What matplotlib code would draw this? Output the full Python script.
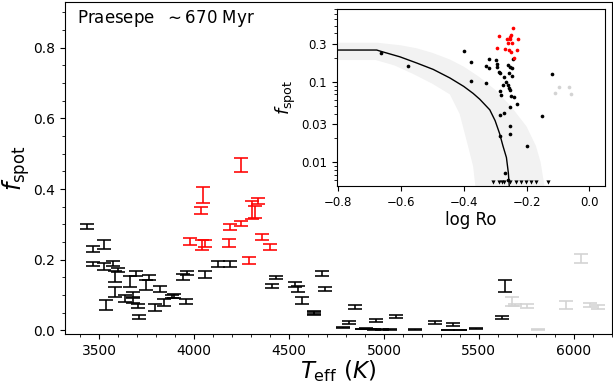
import numpy as np
import matplotlib
matplotlib.use("Agg")
import matplotlib.pyplot as plt
from matplotlib.ticker import MultipleLocator, FixedLocator, FixedFormatter, NullFormatter, LogLocator

# ---------------- main panel data ----------------
teff_black = [3438, 3470, 3523, 3470, 3523, 3572, 3598, 3584, 3584, 3537,
              3693, 3663, 3760, 3747, 3821, 3680, 3637, 3680, 3707, 3712,
              3795, 3842, 3895, 3958, 3944, 3961, 3885, 4058, 4128, 4189,
              4409, 4432, 4532, 4549, 4566, 4675, 4689, 4633, 4633, 4847,
              4814, 4784, 4885, 4905, 4925, 4945, 4958, 4990, 5030, 5066,
              5165, 5268, 5362, 5337, 5400, 5487, 5620, 5640]
fspot_black = [0.293, 0.231, 0.243, 0.188, 0.180, 0.190, 0.170, 0.152, 0.110, 0.073,
               0.160, 0.138, 0.150, 0.129, 0.117, 0.103, 0.090, 0.086, 0.070, 0.038,
               0.064, 0.078, 0.098, 0.082, 0.152, 0.163, 0.095, 0.158, 0.188, 0.188,
               0.126, 0.150, 0.130, 0.118, 0.086, 0.161, 0.118, 0.051, 0.048, 0.066,
               0.023, 0.008, 0.004, 0.005, 0.004, 0.003, 0.029, 0.003, 0.002, 0.040,
               0.003, 0.022, 0.016, 0.001, 0.001, 0.005, 0.037, 0.125]
ferr_black = [0.007, 0.008, 0.013, 0.007, 0.010, 0.007, 0.006, 0.015, 0.014, 0.014,
              0.007, 0.015, 0.007, 0.014, 0.008, 0.007, 0.010, 0.007, 0.006, 0.007,
              0.010, 0.010, 0.006, 0.006, 0.008, 0.006, 0.004, 0.009, 0.009, 0.009,
              0.006, 0.005, 0.006, 0.008, 0.010, 0.006, 0.006, 0.005, 0.004, 0.005,
              0.004, 0.001, 0.001, 0.002, 0.001, 0.001, 0.004, 0.001, 0.001, 0.004,
              0.001, 0.004, 0.004, 0.001, 0.001, 0.001, 0.005, 0.017]

teff_red = [4247, 4049, 4037, 4338, 4303, 4320, 4245, 4189, 3980, 4040,
            4058, 4186, 4356, 4400, 4291]
fspot_red = [0.468, 0.383, 0.339, 0.366, 0.340, 0.335, 0.302, 0.293, 0.252, 0.242,
             0.246, 0.248, 0.264, 0.237, 0.198]
ferr_red = [0.021, 0.023, 0.010, 0.009, 0.025, 0.018, 0.007, 0.009, 0.010, 0.014,
            0.010, 0.012, 0.008, 0.009, 0.010]

teff_grey = [6037, 5677, 5690, 5751, 5958, 6084, 6128, 5812]
fspot_grey = [0.204, 0.082, 0.072, 0.070, 0.071, 0.072, 0.066, 0.003]
ferr_grey = [0.012, 0.014, 0.004, 0.006, 0.011, 0.006, 0.005, 0.001]

# ---------------- inset data ----------------
logro_black = [-0.664, -0.579, -0.399, -0.376, -0.376, -0.330, -0.330, -0.321, -0.320, -0.296,
               -0.295, -0.294, -0.288, -0.284, -0.273, -0.259, -0.257, -0.254, -0.247, -0.243,
               -0.247, -0.275, -0.264, -0.259, -0.256, -0.254, -0.286, -0.280, -0.250, -0.240,
               -0.230, -0.252, -0.273, -0.283, -0.254, -0.254, -0.286, -0.199, -0.270, -0.259,
               -0.150, -0.120]
f_black = [0.231, 0.159, 0.244, 0.179, 0.104, 0.158, 0.098, 0.193, 0.148, 0.187,
           0.167, 0.155, 0.134, 0.130, 0.116, 0.162, 0.128, 0.155, 0.150, 0.191,
           0.119, 0.092, 0.101, 0.092, 0.084, 0.080, 0.078, 0.069, 0.066, 0.065,
           0.053, 0.049, 0.041, 0.039, 0.0285, 0.0225, 0.0214, 0.0162, 0.0073, 0.0061,
           0.038, 0.126]

logro_red = [-0.243, -0.289, -0.249, -0.228, -0.254, -0.259, -0.247, -0.293, -0.267, -0.257,
             -0.249, -0.230, -0.241, -0.262, -0.252]
f_red = [0.466, 0.368, 0.383, 0.338, 0.338, 0.302, 0.302, 0.266, 0.254, 0.249,
         0.237, 0.249, 0.200, 0.340, 0.360]

logro_grey = [-0.095, -0.108, -0.066, -0.059]
f_grey = [0.086, 0.072, 0.086, 0.070]

logro_limit = [-0.307, -0.287, -0.279, -0.271, -0.252, -0.233, -0.217, -0.201, -0.187, -0.169, -0.132]
f_limit = [0.00565] * len(logro_limit)

model_logro = [-0.805, -0.677, -0.664, -0.603, -0.550, -0.497, -0.444, -0.400, -0.370, -0.349,
               -0.317, -0.300, -0.286, -0.275, -0.264, -0.258, -0.255]
model_f = [0.249, 0.249, 0.240, 0.205, 0.172, 0.143, 0.112, 0.088, 0.072, 0.061,
           0.045, 0.033, 0.023, 0.016, 0.0115, 0.0075, 0.0051]

band_hi_logro = [-0.805, -0.675, -0.600, -0.550, -0.500, -0.444, -0.400, -0.350, -0.300, -0.250,
                 -0.200, -0.170, -0.155, -0.143]
band_hi_f = [0.307, 0.307, 0.285, 0.262, 0.230, 0.190, 0.155, 0.115, 0.080, 0.050,
             0.028, 0.016, 0.010, 0.0051]
band_lo_logro = [-0.805, -0.680, -0.620, -0.560, -0.500, -0.444, -0.413, -0.386, -0.370, -0.363]
band_lo_f = [0.187, 0.187, 0.160, 0.125, 0.095, 0.070, 0.040, 0.0158, 0.0089, 0.0051]

# ---------------- figure ----------------
fig = plt.figure(figsize=(6.13, 3.85), dpi=100)
ax = fig.add_axes([0.106, 0.1325, 0.892, 0.863])

ekw = dict(fmt='none', capsize=5, elinewidth=1.15, capthick=1.15)
ax.errorbar(teff_black, fspot_black, yerr=ferr_black, ecolor='black', **ekw)
ax.errorbar(teff_red, fspot_red, yerr=ferr_red, ecolor='red', **ekw)
ax.errorbar(teff_grey, fspot_grey, yerr=ferr_grey, ecolor='lightgrey', **ekw)

ax.set_xlim(3320, 6200)
ax.set_ylim(-0.01, 0.93)
ax.xaxis.set_major_locator(MultipleLocator(500))
ax.xaxis.set_minor_locator(MultipleLocator(100))
ax.yaxis.set_major_locator(MultipleLocator(0.2))
ax.yaxis.set_minor_locator(MultipleLocator(0.05))
ax.tick_params(labelsize=10)
ax.set_xlabel(r'$T_{\rm eff}\ (K)$', fontsize=16.5, labelpad=0)
ax.set_ylabel(r'$f_{\rm spot}$', fontsize=17, labelpad=1)
ax.text(0.022, 0.95, r'Praesepe  $\sim$670 Myr', transform=ax.transAxes,
        fontsize=12, va='center', ha='left')

# ---------------- inset ----------------
ins = fig.add_axes([0.549, 0.517, 0.438, 0.459])
bx = np.array(band_hi_logro + band_lo_logro[::-1])
by = np.array(band_hi_f + band_lo_f[::-1])
ins.fill(bx, by, color='#f2f2f2', lw=0, zorder=0)
ins.plot(model_logro, model_f, color='black', lw=1.0, zorder=1)
ins.scatter(logro_black, f_black, s=7, color='black', zorder=3, lw=0)
ins.scatter(logro_red, f_red, s=7, color='red', zorder=3, lw=0)
ins.scatter(logro_grey, f_grey, s=7, color='lightgrey', zorder=3, lw=0)
ins.scatter(logro_limit, f_limit, s=9, marker='v', color='black', zorder=3, lw=0)

ins.set_yscale('log')
ins.set_xlim(-0.805, 0.05)
ins.set_ylim(0.0051, 0.8)
ins.xaxis.set_major_locator(MultipleLocator(0.2))
ins.yaxis.set_major_locator(FixedLocator([0.01, 0.03, 0.1, 0.3]))
ins.yaxis.set_major_formatter(FixedFormatter(['0.01', '0.03', '0.1', '0.3']))
ins.yaxis.set_minor_locator(LogLocator(base=10, subs=np.arange(1, 10)))
ins.yaxis.set_minor_formatter(NullFormatter())
ins.tick_params(labelsize=8.5)
ins.set_xlabel('log Ro', fontsize=12, labelpad=2)
ins.set_ylabel(r'$f_{\rm spot}$', fontsize=13, labelpad=2)

fig.savefig('out.png', dpi=100)
